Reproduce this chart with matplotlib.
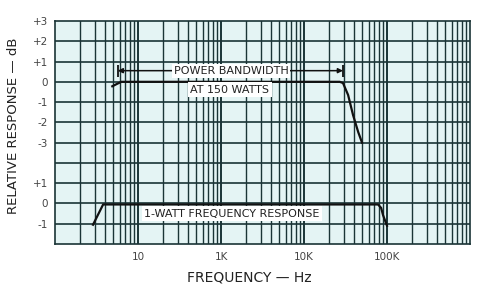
import numpy as np
import matplotlib.pyplot as plt

# 150 W power bandwidth curve (upper panel), dB vs Hz
power_freq = [49, 56, 63, 1000, 10000, 27000, 29500, 34000, 39000, 45000, 50000]
power_db = [-0.22, -0.1, 0.0, 0.0, 0.0, 0.0, -0.06, -0.65, -1.64, -2.48, -3.0]

# 1 W frequency response (lower panel)
watt_freq = [28.7, 38, 1000, 10000, 78000, 85000, 89500, 100000]
watt_db = [-1.05, -0.05, -0.05, -0.05, -0.05, -0.22, -0.57, -1.1]

# power bandwidth arrow
band_lo, band_hi, band_level = 57, 29500, 0.55

x_tick_pos = [100, 1000, 10000, 100000]
x_tick_labels = ['10', '1K', '10K', '100K']
top_labels = ['+3', '+2', '+1', '0', '-1', '-2', '-3']
bottom_labels = ['+1', '0', '-1']

# the chart stacks two dB scales on one grid: upper 0 dB at row 8, lower 0 dB at row 2
TOP_OFF, BOT_OFF = 8, 2

bg = '#e4f4f4'
grid_c = '#1a3436'
ink = '#222222'

fig = plt.figure(figsize=(4.8, 2.88), dpi=100)
ax = fig.add_axes([55 / 480, 1 - 244 / 288, 415 / 480, 223 / 288])
ax.set_facecolor(bg)
ax.set_xscale('log')
ax.set_xlim(10, 1e6)
ax.set_ylim(0, 11)

# grid: every 1-9 line per decade, every dB row
for dec in [10, 100, 1000, 10000, 100000]:
    for m in range(1, 10):
        f = dec * m
        if f <= 10 or f >= 1e6:
            continue
        ax.axvline(f, color=grid_c, lw=1.4 if m == 1 else 1.0, zorder=1)
for r in range(1, 11):
    ax.axhline(r, color=grid_c, lw=1.2, zorder=1)
for s in ax.spines.values():
    s.set_color(grid_c)
    s.set_linewidth(1.2)

ax.plot(power_freq, np.array(power_db) + TOP_OFF, color='#111111', lw=1.6, zorder=3)
ax.plot(watt_freq, np.array(watt_db) + BOT_OFF, color='#111111', lw=1.6, zorder=3)

# bandwidth arrow with end bars
yb = band_level + TOP_OFF
ax.annotate('', xy=(band_lo, yb), xytext=(band_hi, yb),
            arrowprops=dict(arrowstyle='<|-|>', color='#111111', lw=1.1,
                            mutation_scale=7, shrinkA=0, shrinkB=0), zorder=3)
ax.plot([band_lo, band_hi], [yb, yb], ls='none', marker='|', ms=8, mew=1.3,
        color='#111111', zorder=3)

box = dict(facecolor='white', edgecolor='none', pad=1.5)
ax.text(1320, 8.55, 'POWER BANDWIDTH', ha='center', va='center', fontsize=8,
        color=ink, bbox=box, zorder=4)
ax.text(1280, 7.62, 'AT 150 WATTS', ha='center', va='center', fontsize=8,
        color=ink, bbox=box, zorder=4)
ax.text(1350, 1.5, '1-WATT FREQUENCY RESPONSE', ha='center', va='center',
        fontsize=8, color=ink, bbox=box, zorder=4)

ax.set_xticks(x_tick_pos)
ax.set_xticklabels(x_tick_labels)
ax.xaxis.set_minor_locator(plt.NullLocator())
ax.set_yticks(list(range(11, 4, -1)) + [3, 2, 1])
ax.set_yticklabels(top_labels + bottom_labels)
ax.tick_params(axis='x', length=0, pad=6, labelsize=7.5, labelcolor='#444444')
ax.tick_params(axis='y', length=0, pad=5, labelsize=7.5, labelcolor='#444444')

ax.set_xlabel('FREQUENCY — Hz', fontsize=10, color=ink)
ax.xaxis.set_label_coords((249 - 55) / 415, -0.12)
ax.set_ylabel('RELATIVE RESPONSE — dB', fontsize=9.5, color=ink)
ax.yaxis.set_label_coords(-(55 - 20) / 415, 0.53)

fig.savefig('out.png', dpi=100)
